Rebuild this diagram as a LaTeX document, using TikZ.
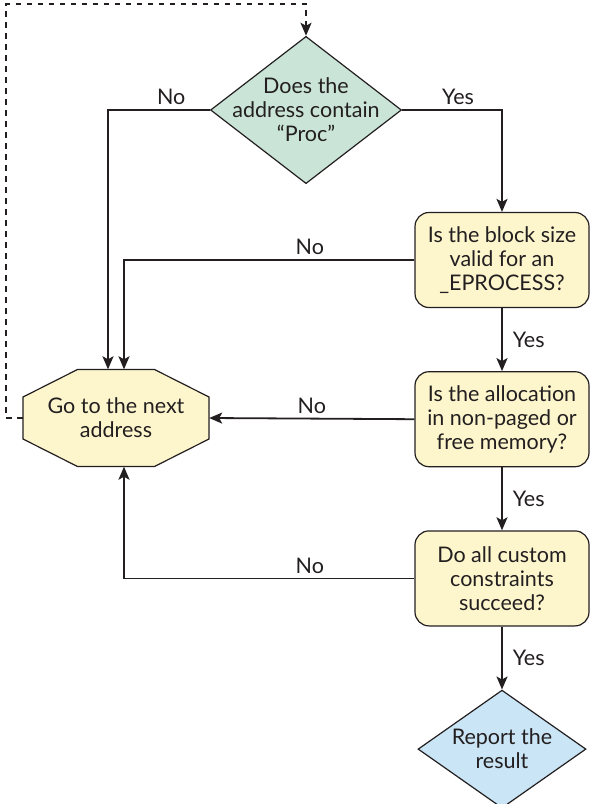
\documentclass[tikz,border=0pt]{standalone}
\usepackage{fontspec}
\setmainfont{Lato}
\usetikzlibrary{arrows.meta,positioning,shapes.geometric}

\definecolor{ink}{RGB}{35,31,32}
\definecolor{boxyellow}{RGB}{253,246,205}
\definecolor{decgreen}{RGB}{202,229,215}
\definecolor{repblue}{RGB}{202,229,245}

\tikzset{
testbox/.style={
  rectangle,
  rounded corners=14pt,
  line width=1.2pt,
  draw=ink,
  fill=boxyellow,
  minimum width=174pt,
  minimum height=95pt,
  inner sep=0pt,
  align=center,
  }
}
\tikzset{
decision/.style={
  diamond,
  line width=1.2pt,
  draw=ink,
  inner sep=-16pt,
  align=center,
  }
}
\tikzset{
flowline/.style={
  line width=1.8pt,
  draw=ink,
  -{Stealth[length=13pt,width=11pt,inset=3pt]}
  },
answer/.style={
  inner sep=4pt,
  text=ink,
  }
}

\begin{document}
\begin{tikzpicture}[x=1pt,y=-1pt,font=\fontsize{21.5}{24}\selectfont,text=ink]
    \fill[white] (0,0) rectangle (590,804);
    \useasboundingbox (0,0) rectangle (590,804);

    % first check
    \node[decision, fill=decgreen, minimum width=191pt, minimum height=134pt] (proc) at (306,110) {Does the\\address contain\\“Proc”};

    % right column
    \node[testbox] (block) at (502,260) {Is the block size\\valid for an\\\_EPROCESS?};
    \begin{scope}[node distance=63pt]
    \node[testbox, below=of block] (alloc) {Is the allocation\\in non-paged or\\free memory?};
    \node[testbox, below=of alloc] (custom) {Do all custom\\constraints\\succeed?};
    \node[decision, fill=repblue, minimum width=168pt, minimum height=118pt, below=of custom] (report) {Report the\\result};
    \end{scope}

    % next address
    \coordinate (nextc) at (116,418);
    \filldraw[line width=1.2pt, draw=ink, fill=boxyellow, shift={(nextc)}]
      (-38.5,-48.5) -- (38.5,-48.5) -- (93,-21) -- (93,21) -- (38.5,48.5)
      -- (-38.5,48.5) -- (-93,21) -- (-93,-21) -- cycle;
    \node[minimum width=186pt, minimum height=97pt, inner sep=0pt, align=center] (next) at (nextc) {Go to the next\\address};

    % yes edges
    \draw[flowline] (proc.east) -| node[answer, above, pos=0.28] {Yes} (block.north);
    \draw[flowline] (block) -- node[answer, right=6pt] {Yes} (alloc);
    \draw[flowline] (alloc) -- node[answer, right=6pt] {Yes} (custom);
    \draw[flowline] (custom) -- node[answer, right=6pt] {Yes} (report);

    % no edges
    \draw[flowline] (proc.west) -| node[answer, above, pos=0.19] {No} ([xshift=-8pt]next.north);
    \draw[flowline] (block.west) -| node[answer, above, pos=0.18] {No} ([xshift=8pt]next.north);
    \draw[flowline] (alloc.west) -- node[answer, above] {No} (next.east);
    \draw[flowline] (custom.west) -| node[answer, above, pos=0.18] {No} ([xshift=8pt]next.south);

    % loop back
    \draw[flowline, dash pattern=on 5.5pt off 5.5pt] (next.west) -- ++(-16.5,0) |- ([yshift=32pt]proc.north) -- (proc.north);
\end{tikzpicture}
\end{document}
